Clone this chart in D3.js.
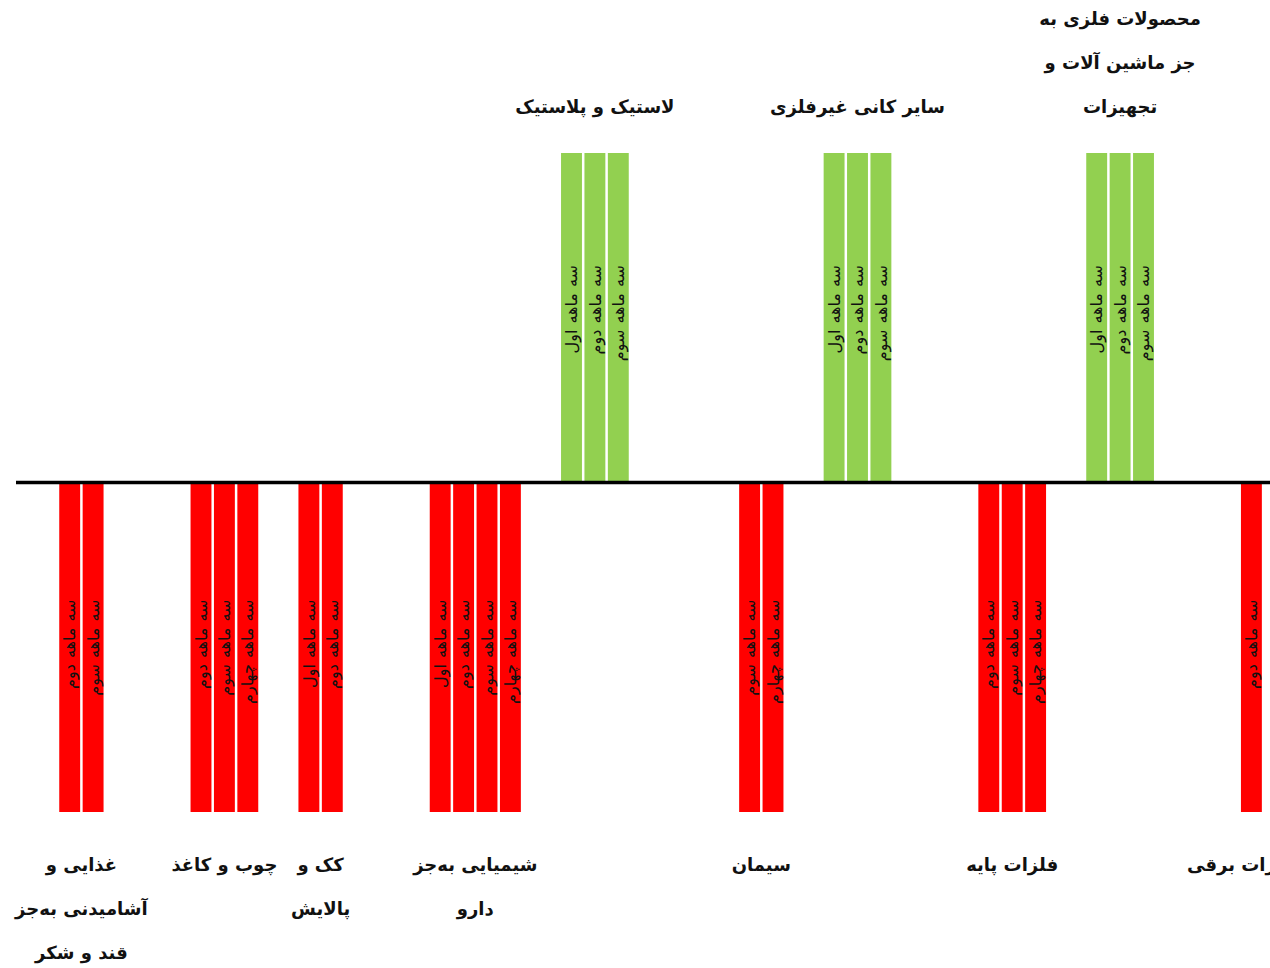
<!DOCTYPE html>
<html>
<head>
<meta charset="utf-8">
<script src="https://cdn.jsdelivr.net/npm/d3@7"></script>
<style>
body { margin: 0; background: #fff; overflow: hidden; }
</style>
</head>
<body>
<script>
var w = 1270;
var h = 968;

// category labels, "|" marks a line break
var categories = [
    "غذایی و|آشامیدنی به‌جز|قند و شکر",
    "چوب و کاغذ",
    "کک و|پالایش",
    "شیمیایی به‌جز|دارو",
    "لاستیک و پلاستیک",
    "سیمان",
    "سایر کانی غیرفلزی",
    "فلزات پایه",
    "محصولات فلزی به|جز ماشین آلات و|تجهیزات",
    "تجهیزات برقی"
];
var quarters = ["سه ماهه اول", "سه ماهه دوم", "سه ماهه سوم", "سه ماهه چهارم"];
// +1 growth, -1 decline, 0 no bar
var q1 = [0, 0, -1, -1, 1, 0, 1, 0, 1, 0];
var q2 = [-1, -1, -1, -1, 1, 0, 1, -1, 1, -1];
var q3 = [-1, -1, 0, -1, 1, -1, 1, -1, 1, 0];
var q4 = [0, -1, 0, -1, 0, -1, 0, -1, 0, 0];
var series = [q1, q2, q3, q4];

var svg = d3.select("body")
            .append("svg")
            .attr("width", w)
            .attr("height", h);

var x0 = d3.scaleBand()
    .domain(d3.range(categories.length))
    .range([17, 17 + 131.3 * categories.length])
    .paddingInner(0.287)
    .paddingOuter(0.1435);

var x1 = d3.scaleBand()
    .domain(quarters)
    .range([0, x0.bandwidth()]);

var y = d3.scaleLinear()
    .domain([-1, 1])
    .range([812, 153]);

var bars = [];
categories.forEach(function(c, i){
    series.forEach(function(s, j){
        if (s[i] !== 0) bars.push({cat: i, q: quarters[j], v: s[i]});
    });
});

var barW = x1.bandwidth() - 2.5;

svg.selectAll("rect.bar")
    .data(bars)
    .enter()
    .append("rect")
    .attr("class", "bar")
    .attr("x", function(d){ return x0(d.cat) + x1(d.q); })
    .attr("y", function(d){ return Math.min(y(d.v), y(0)); })
    .attr("width", barW)
    .attr("height", function(d){ return Math.abs(y(d.v) - y(0)); })
    .attr("fill", function(d){ return d.v > 0 ? "#92d050" : "#ff0000"; });

svg.selectAll("text.q")
    .data(bars)
    .enter()
    .append("text")
    .attr("class", "q")
    .text(function(d){ return d.q; })
    .attr("transform", function(d){
        var cx = x0(d.cat) + x1(d.q) + barW / 2;
        var top = Math.min(y(d.v), y(0)) + (d.v > 0 ? 112 : 117);
        return "translate(" + cx + "," + top + ") rotate(-90)";
    })
    .attr("dy", "0.35em")
    .attr("text-anchor", "end")
    .attr("font-family", "DejaVu Sans")
    .attr("font-size", "16px")
    .attr("word-spacing", "1px")
    .attr("fill", "#111");

// zero line
svg.append("line")
    .attr("x1", 16)
    .attr("x2", w)
    .attr("y1", y(0))
    .attr("y2", y(0))
    .attr("stroke", "#000")
    .attr("stroke-width", 3.5);

var lh = 44;
var labels = svg.selectAll("g.lab")
    .data(categories)
    .enter()
    .append("g")
    .attr("class", "lab");

labels.each(function(c, i){
    var mine = bars.filter(function(b){ return b.cat === i; });
    var cx = d3.mean(mine, function(b){ return x0(b.cat) + x1(b.q) + barW / 2; });
    var up = mine[0].v > 0;
    var lines = c.split("|");
    d3.select(this).selectAll("text")
        .data(lines)
        .enter()
        .append("text")
        .text(function(d){ return d; })
        .attr("x", cx)
        .attr("y", function(d, k){
            return up ? 107 - (lines.length - 1 - k) * lh : 865 + k * lh;
        })
        .attr("dy", "0.35em")
        .attr("text-anchor", "middle")
        .attr("direction", "rtl")
        .attr("font-family", "DejaVu Sans")
        .attr("font-weight", "bold")
        .attr("font-size", "18px")
        .attr("fill", "#111");
});
</script>
</body>
</html>
